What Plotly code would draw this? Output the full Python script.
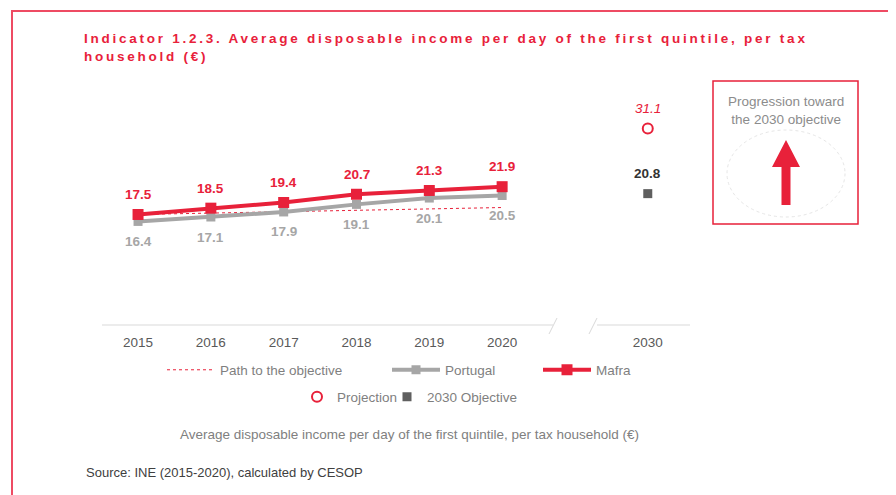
import plotly.graph_objects as go

# ---------------- data ----------------
years = ["2015", "2016", "2017", "2018", "2019", "2020"]
target_year = "2030"
gap_cat = "gap"
mafra = [17.5, 18.5, 19.4, 20.7, 21.3, 21.9]
portugal = [16.4, 17.1, 17.9, 19.1, 20.1, 20.5]
path_obj = [17.5, 17.7, 17.9, 18.2, 18.4, 18.6]
projection = [31.1]
objective = [20.8]

RED = "#E8213A"
GRAY = "#A6A6A6"
DARK = "#5F5F5F"
FRAME = "#EE4B63"

# page offset (browser body margin) and plot area in page pixels
OFF = 8
L, R, T, B = 102, 690, 85, 325
W, H = R - L, B - T
FW, FH = 896 - OFF, 495 - OFF


def px(x):
    return (x - L) / W


def py(y):
    return (B - y) / H


cats = years + [gap_cat, target_year]

fig = go.Figure()

fig.add_trace(go.Scatter(
    x=years, y=path_obj, mode="lines", name="Path to the objective",
    line=dict(color=RED, width=1, dash="dot"), legend="legend"))
fig.add_trace(go.Scatter(
    x=years, y=portugal, mode="lines+markers", name="Portugal",
    line=dict(color=GRAY, width=4), marker=dict(symbol="square", size=9, color=GRAY),
    legend="legend2"))
fig.add_trace(go.Scatter(
    x=years, y=mafra, mode="lines+markers", name="Mafra",
    line=dict(color=RED, width=4), marker=dict(symbol="square", size=11, color=RED),
    legend="legend3"))
fig.add_trace(go.Scatter(
    x=[target_year], y=projection, mode="markers", name="Projection",
    marker=dict(symbol="circle-open", size=10, color=RED, line=dict(width=2, color=RED)),
    legend="legend4"))
fig.add_trace(go.Scatter(
    x=[target_year], y=objective, mode="markers", name="2030 Objective",
    marker=dict(symbol="square", size=9, color=DARK),
    legend="legend5"))

ann = []
lab_font = "Liberation Sans, Arial, sans-serif"
for xv, yv in zip(years, mafra):
    ann.append(dict(x=cats.index(xv), y=yv, xref="x", yref="y", text=f"{yv:.1f}", showarrow=False,
                    yshift=20, font=dict(family=lab_font, size=13.5, color=RED, weight="bold")))
for xv, yv in zip(years, portugal):
    ann.append(dict(x=cats.index(xv), y=yv, xref="x", yref="y", text=f"{yv:.1f}", showarrow=False,
                    yshift=-20, font=dict(family=lab_font, size=13.5, color=GRAY, weight="bold")))
ann.append(dict(x=cats.index(target_year), y=projection[0], xref="x", yref="y",
                text=f"<i>{projection[0]:.1f}</i>",
                showarrow=False, yshift=20, font=dict(family=lab_font, size=13.5, color=RED)))
ann.append(dict(x=cats.index(target_year), y=objective[0], xref="x", yref="y", text=f"{objective[0]:.1f}",
                showarrow=False, yshift=20,
                font=dict(family=lab_font, size=13.5, color="#333333", weight="bold")))

# title
ann.append(dict(x=px(82), y=py(47.5), xref="paper", yref="paper", xanchor="left", yanchor="middle",
                align="left", showarrow=False,
                text="<span style='letter-spacing:2.75px'>Indicator 1.2.3. Average disposable income per day "
                     "of the first quintile, per tax</span><br><span style='letter-spacing:2.75px'>household (€)</span>",
                font=dict(family=lab_font, size=13.5, color=RED, weight="bold")))
# right box text
ann.append(dict(x=px(786), y=py(110), xref="paper", yref="paper", xanchor="center", yanchor="middle",
                showarrow=False, text="Progression toward<br>the 2030 objective",
                font=dict(family=lab_font, size=13.5, color="#8C8C8C")))
# subtitle
ann.append(dict(x=px(409), y=py(434), xref="paper", yref="paper", xanchor="center", yanchor="middle",
                showarrow=False,
                text="Average disposable income per day of the first quintile, per tax household (€)",
                font=dict(family=lab_font, size=13.5, color="#808080")))
# source
ann.append(dict(x=px(84), y=py(472), xref="paper", yref="paper", xanchor="left", yanchor="middle",
                showarrow=False, text="Source: INE (2015-2020), calculated by CESOP",
                font=dict(family=lab_font, size=13, color="#404040")))

shapes = []
# frame
shapes.append(dict(type="line", xref="paper", yref="paper", x0=px(11), x1=px(900), y0=py(11), y1=py(11),
                   line=dict(color=FRAME, width=2)))
shapes.append(dict(type="line", xref="paper", yref="paper", x0=px(12), x1=px(12), y0=py(11), y1=py(500),
                   line=dict(color=FRAME, width=2)))
# broken axis
shapes.append(dict(type="line", xref="paper", yref="paper", x0=0, x1=px(553), y0=0, y1=0,
                   line=dict(color="#D9D9D9", width=1)))
shapes.append(dict(type="line", xref="paper", yref="paper", x0=px(597), x1=1, y0=0, y1=0,
                   line=dict(color="#D9D9D9", width=1)))
shapes.append(dict(type="line", xref="paper", yref="paper", x0=px(549), x1=px(557), y0=py(334), y1=py(318),
                   line=dict(color="#D9D9D9", width=1)))
shapes.append(dict(type="line", xref="paper", yref="paper", x0=px(589), x1=px(597), y0=py(334), y1=py(318),
                   line=dict(color="#D9D9D9", width=1)))
# right box
shapes.append(dict(type="rect", xref="paper", yref="paper", x0=px(713), x1=px(858), y0=py(224), y1=py(81),
                   line=dict(color=RED, width=1.5)))
shapes.append(dict(type="circle", xref="paper", yref="paper", x0=px(727), x1=px(845), y0=py(217), y1=py(130),
                   line=dict(color="#E6E6E6", width=1, dash="dot")))
pts = [(781.5, 205), (781.5, 167), (772, 167), (786, 140), (800, 167), (790.5, 167), (790.5, 205)]
path = "M " + " L ".join(f"{px(a):.5f},{py(b):.5f}" for a, b in pts) + " Z"
shapes.append(dict(type="path", xref="paper", yref="paper", path=path, fillcolor=RED,
                   line=dict(color=RED, width=0)))

leg_common = dict(orientation="h", xanchor="left", yanchor="middle", bgcolor="rgba(0,0,0,0)",
                  font=dict(family=lab_font, size=13.5, color="#7F7F7F"),
                  itemclick=False, itemdoubleclick=False)

fig.update_layout(
    width=FW, height=FH,
    margin=dict(l=L - OFF, r=FW - (R - OFF), t=T - OFF, b=FH - (B - OFF)),
    paper_bgcolor="white", plot_bgcolor="white",
    showlegend=True,
    xaxis=dict(type="category", categoryorder="array", categoryarray=cats,
               tickvals=years + [target_year], ticktext=years + [target_year],
               range=[-0.495, 7.58], showgrid=False, showline=False, zeroline=False, ticks="",
               ticklabelstandoff=7,
               tickfont=dict(family=lab_font, size=13.5, color="#595959")),
    yaxis=dict(range=[0, 38], visible=False),
    annotations=ann,
    shapes=shapes,
    legend=dict(x=px(162), y=py(370), itemwidth=48, **leg_common),
    legend2=dict(x=px(387), y=py(370), itemwidth=48, **leg_common),
    legend3=dict(x=px(538), y=py(370), itemwidth=48, **leg_common),
    legend4=dict(x=px(297), y=py(397), itemwidth=30, **leg_common),
    legend5=dict(x=px(387), y=py(397), itemwidth=30, **leg_common),
)

fig.write_html("out.html")
